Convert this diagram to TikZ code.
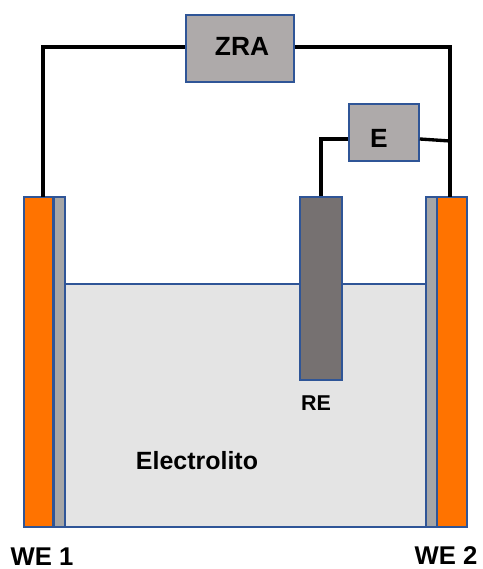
\documentclass[tikz,border=0pt]{standalone}
\usepackage{fontspec}
\setmainfont{Liberation Sans}
\definecolor{bordeazul}{HTML}{2F5597}
\definecolor{naranja}{HTML}{FF7300}
\definecolor{grisbox}{HTML}{AEAAAA}
\definecolor{grismembrana}{HTML}{A6A6A6}
\definecolor{grisre}{HTML}{767171}
\definecolor{griselectrolito}{HTML}{E4E4E4}
\tikzset{
    caja/.style={draw=bordeazul, line width=1.15pt, inner sep=0pt},
    cable/.style={black, line width=1.9pt},
    rotulo/.style={inner sep=0pt, font=\bfseries}
}
\begin{document}
\begin{tikzpicture}
    \useasboundingbox (0, 0) rectangle (9.64, 11.38);

    % 1. Electrolito
    \node[caja, fill=griselectrolito, minimum width=7.22cm, minimum height=4.86cm] (electrolito) at (4.91, 3.27) {};

    % 2. Electrodos de trabajo
    \node[caja, fill=naranja, minimum width=0.59cm, minimum height=6.6cm] (we1) at (0.775, 4.14) {};
    \node[caja, fill=grismembrana, minimum width=0.23cm, minimum height=6.6cm] (capa1) at (1.185, 4.14) {};
    \node[caja, fill=grismembrana, minimum width=0.23cm, minimum height=6.6cm] (capa2) at (8.63, 4.14) {};
    \node[caja, fill=naranja, minimum width=0.59cm, minimum height=6.6cm] (we2) at (9.04, 4.14) {};

    % 3. Electrodo de referencia
    \node[caja, fill=grisre, minimum width=0.84cm, minimum height=3.66cm] (re) at (6.42, 5.61) {};

    % 4. Instrumentos
    \node[caja, fill=grisbox, minimum width=2.16cm, minimum height=1.34cm] (zra) at (4.8, 10.41) {};
    \node[caja, fill=grisbox, minimum width=1.39cm, minimum height=1.13cm] (e) at (7.68, 8.73) {};

    % 5. Cables
    \coordinate (top1) at (0.86, 7.44);
    \coordinate (top2) at (9.0, 7.44);
    \coordinate (union) at (9.0, 8.56);
    \draw[cable] ([yshift=0.03cm]zra.west) -| (top1);
    \draw[cable] ([yshift=0.03cm]zra.east) -| (top2);
    \draw[cable] ([yshift=-0.13cm]e.east) -- (union);
    \draw[cable] ([yshift=-0.13cm]e.west) -| (re.north);

    % 6. Rótulos
    \node[rotulo, font=\bfseries\fontsize{15}{18}\selectfont] (rotzra) at (4.84, 10.45) {ZRA};
    \node[rotulo, font=\bfseries\fontsize{15}{18}\selectfont] (rote) at (7.58, 8.62) {E};
    \node[rotulo, font=\bfseries\fontsize{12.2}{14}\selectfont] (rotre) at (6.32, 3.32) {RE};
    \node[rotulo, font=\bfseries\fontsize{14.2}{17}\selectfont] (rotelectrolito) at (3.94, 2.16) {Electrolito};
    \node[rotulo, font=\bfseries\fontsize{14.6}{17}\selectfont] (rotwe1) at (0.84, 0.24) {WE 1};
    \node[rotulo, font=\bfseries\fontsize{14.6}{17}\selectfont] (rotwe2) at (8.92, 0.26) {WE 2};
\end{tikzpicture}
\end{document}
